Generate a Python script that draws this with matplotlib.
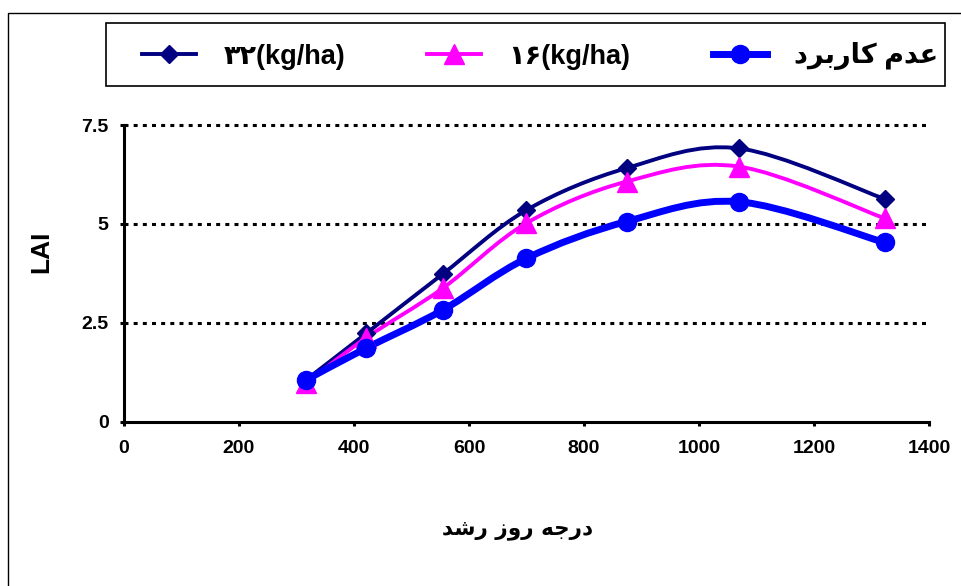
import matplotlib
matplotlib.use("Agg")
import matplotlib.pyplot as plt
from matplotlib.path import Path
from matplotlib.patches import PathPatch, Rectangle
from matplotlib.lines import Line2D
import numpy as np

# ---------------------------
# Data
# ---------------------------
gdd = [316, 421, 554, 700, 874, 1069, 1323]
lai_32 = [1.05, 2.23, 3.73, 5.35, 6.41, 6.91, 5.63]
lai_16 = [0.97, 2.12, 3.37, 5.02, 6.07, 6.45, 5.14]
lai_none = [1.05, 1.86, 2.82, 4.13, 5.06, 5.56, 4.53]

x_ticks = [0, 200, 400, 600, 800, 1000, 1200, 1400]
y_ticks = [0, 2.5, 5, 7.5]
y_tick_labels = ["0", "2.5", "5", "7.5"]

# Persian labels, pre-shaped (presentation forms, visual order)
label_32 = "\u06F3\u06F2(kg/ha)"
label_16 = "\u06F1\u06F6(kg/ha)"
label_none = "\uFEA9\uFEAE\uFE91\uFEAD\uFE8E\uFEDB \uFEE1\uFEAA\uFECB"
x_label = "\uFEAA\uFEB7\uFEAD \uFEAF\uFEED\uFEAD \uFEEA\uFE9F\uFEAD\uFEA9"
y_label = "LAI"


def smooth_path(x, y):
    """Excel-like smoothed line as cubic bezier segments through the points."""
    pts = np.column_stack([x, y]).astype(float)
    n = len(pts)
    verts = [pts[0]]
    codes = [Path.MOVETO]
    for i in range(n - 1):
        p_prev = pts[i - 1] if i > 0 else pts[i]
        p_next2 = pts[i + 2] if i + 2 < n else pts[i + 1]
        c1 = pts[i] + (pts[i + 1] - p_prev) / 6.0
        c2 = pts[i + 1] - (p_next2 - pts[i]) / 6.0
        verts += [c1, c2, pts[i + 1]]
        codes += [Path.CURVE4] * 3
    return Path(verts, codes)


series = [
    (lai_32, "#000080", 2.8, "D", 9.5, label_32),
    (lai_16, "#FF00FF", 2.8, "^", 14, label_16),
    (lai_none, "#0000FF", 5.0, "o", 13, label_none),
]

W, H = 962, 586
fig = plt.figure(figsize=(W / 100, H / 100), dpi=100)
ax = fig.add_axes([124 / W, 1 - 421.7 / H, (929 - 124) / W, (421.7 - 125) / H])

handles = []
for vals, color, lw, marker, ms, label in series:
    patch = PathPatch(smooth_path(gdd, vals), facecolor="none", edgecolor=color,
                      lw=lw, capstyle="round", joinstyle="round", zorder=3)
    ax.add_patch(patch)
    ax.plot(gdd, vals, linestyle="none", marker=marker, markersize=ms,
            color=color, markeredgecolor=color, zorder=4, clip_on=False)
    handles.append(Line2D([], [], color=color, lw=lw, marker=marker,
                          markersize=ms, markeredgecolor=color))

ax.set_xlim(0, 1400)
ax.set_ylim(0, 7.5)
ax.set_xticks(x_ticks)
ax.set_yticks(y_ticks)
ax.set_yticklabels(y_tick_labels)

for t in ax.get_xticklabels() + ax.get_yticklabels():
    t.set_fontfamily("Liberation Sans")
    t.set_fontweight("bold")
    t.set_fontsize(14)

ax.tick_params(axis="both", direction="out", length=3, width=2.2, color="black")
ax.tick_params(axis="x", pad=10)
ax.tick_params(axis="y", pad=8)

for side in ["top", "right"]:
    ax.spines[side].set_visible(False)
for side in ["left", "bottom"]:
    ax.spines[side].set_linewidth(2.2)

for yv in y_ticks[1:]:
    ax.axhline(yv, color="black", lw=2.2, linestyle=(0, (1.3, 1.7)), zorder=1,
               clip_on=False)

fig.text(41 / W, 1 - 252 / H, y_label, rotation=90, ha="center", va="center",
         fontfamily="Liberation Sans", fontweight="bold", fontsize=19)
fig.text(518 / W, 1 - 530 / H, x_label, ha="center", va="center",
         fontfamily="DejaVu Sans", fontweight="bold", fontsize=15.5)

# legend box drawn separately, entries spread inside it
fig.patches.append(Rectangle((106 / W, 1 - 86 / H), (945 - 106) / W, (86 - 23) / H,
                             transform=fig.transFigure, fill=False,
                             edgecolor="black", lw=1.2, zorder=5))
leg = fig.legend(handles, [s[5] for s in series], ncol=3, loc="center",
                 bbox_to_anchor=(142 / W, 1 - 88 / H, (938 - 142) / W, 63 / H),
                 mode="expand", frameon=False,
                 handlelength=2.0, handletextpad=1.0, borderaxespad=0, borderpad=0,
                 prop={"family": ["Liberation Sans", "DejaVu Sans"],
                       "weight": "bold", "size": 19.5})

# outer chart border
fig.patches.append(Rectangle((8 / W, -0.1), 1.2, 1.1 - 13 / H,
                             transform=fig.transFigure, fill=False,
                             edgecolor="black", lw=1.0))

fig.savefig("out.png", dpi=100)
